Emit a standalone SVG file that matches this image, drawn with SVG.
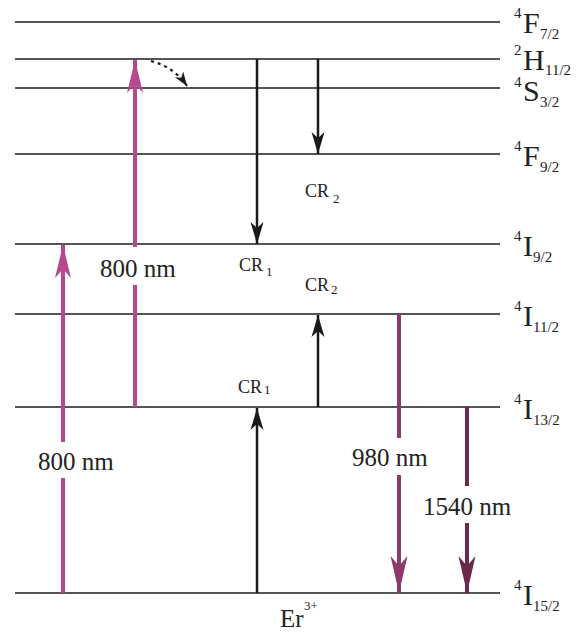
<svg xmlns="http://www.w3.org/2000/svg" width="579" height="633" viewBox="0 0 579 633">
<style>
text{font-family:"Liberation Serif","Times New Roman",serif;fill:#222}
.lv{stroke:#555;stroke-width:2;fill:none}
.big{font-size:30px}
.sup{font-size:15px}
.sub{font-size:15px}
.lab{font-size:25px}
.cr{font-size:18px}
.crs{font-size:13px}
.pink{stroke:#b5488f;stroke-width:4;fill:none}
.p980{stroke:#8c3a6c;stroke-width:4;fill:none}
.p1540{stroke:#6b2848;stroke-width:4;fill:none}
.blk{stroke:#1a1a1a;stroke-width:2.5;fill:none}
</style>
<defs>
<marker id="mPink" viewBox="-34 -9 35 18" refX="0" refY="0" markerWidth="35" markerHeight="18" markerUnits="userSpaceOnUse" orient="auto">
<path d="M0,0 L-33,-8 L-24,0 L-33,8 Z" fill="#b5488f"/>
</marker>
<marker id="m980" viewBox="-38 -9 39 18" refX="0" refY="0" markerWidth="39" markerHeight="18" markerUnits="userSpaceOnUse" orient="auto">
<path d="M0,0 L-37,-8.5 L-27,0 L-37,8.5 Z" fill="#8c3a6c"/>
</marker>
<marker id="m1540" viewBox="-38 -9 39 18" refX="0" refY="0" markerWidth="39" markerHeight="18" markerUnits="userSpaceOnUse" orient="auto">
<path d="M0,0 L-37,-8.5 L-27,0 L-37,8.5 Z" fill="#6b2848"/>
</marker>
<marker id="mBlk" viewBox="-23 -7 24 14" refX="0" refY="0" markerWidth="24" markerHeight="14" markerUnits="userSpaceOnUse" orient="auto">
<path d="M0,0 L-22,-6.5 L-16,0 L-22,6.5 Z" fill="#1a1a1a"/>
</marker>
<marker id="mDot" viewBox="-15 -6 16 12" refX="0" refY="0" markerWidth="16" markerHeight="12" markerUnits="userSpaceOnUse" orient="auto">
<path d="M0,0 L-14,-5 L-10,0 L-14,5 Z" fill="#1a1a1a"/>
</marker>
</defs>

<g id="levels">
<line class="lv" x1="15" y1="22" x2="500" y2="22"/>
<line class="lv" x1="15" y1="59" x2="500" y2="59"/>
<line class="lv" x1="15" y1="88" x2="500" y2="88"/>
<line class="lv" x1="15" y1="154" x2="500" y2="154"/>
<line class="lv" x1="15" y1="244" x2="500" y2="244"/>
<line class="lv" x1="15" y1="314" x2="500" y2="314"/>
<line class="lv" x1="15" y1="407" x2="500" y2="407"/>
<line class="lv" x1="15" y1="593" x2="500" y2="593"/>
</g>

<g id="level-labels">
<g id="F72"><text class="sup" x="514" y="18">4</text><text class="big" x="523" y="33">F</text><text class="sub" x="540" y="39">7/2</text></g>
<g id="H112"><text class="sup" x="514" y="55">2</text><text class="big" x="523" y="70">H</text><text class="sub" x="545" y="75">11/2</text></g>
<g id="S32"><text class="sup" x="514" y="87">4</text><text class="big" x="523" y="101">S</text><text class="sub" x="540" y="107">3/2</text></g>
<g id="F92"><text class="sup" x="514" y="151">4</text><text class="big" x="523" y="166">F</text><text class="sub" x="540" y="172">9/2</text></g>
<g id="I92"><text class="sup" x="514" y="241">4</text><text class="big" x="523" y="256">I</text><text class="sub" x="533" y="262">9/2</text></g>
<g id="I112"><text class="sup" x="514" y="311">4</text><text class="big" x="523" y="326">I</text><text class="sub" x="533" y="332">11/2</text></g>
<g id="I132"><text class="sup" x="514" y="404">4</text><text class="big" x="523" y="419">I</text><text class="sub" x="533" y="425">13/2</text></g>
<g id="I152"><text class="sup" x="514" y="590">4</text><text class="big" x="523" y="605">I</text><text class="sub" x="533" y="611">15/2</text></g>
<g id="Er"><text x="280" y="627" font-size="25">Er</text><text x="304" y="610" font-size="13">3+</text></g>
</g>

<g id="connectors">
<line class="pink" x1="63" y1="593" x2="63" y2="245" marker-end="url(#mPink)"/>
<line class="pink" x1="135" y1="407" x2="135" y2="60" marker-end="url(#mPink)"/>
<path d="M151,61 Q174,67 187,86" fill="none" stroke="#1a1a1a" stroke-width="2.2" stroke-dasharray="3,4" marker-end="url(#mDot)"/>
<line class="blk" x1="257" y1="59" x2="257" y2="244" marker-end="url(#mBlk)"/>
<line class="blk" x1="318" y1="59" x2="318" y2="154" marker-end="url(#mBlk)"/>
<line class="blk" x1="257" y1="593" x2="257" y2="408" marker-end="url(#mBlk)"/>
<line class="blk" x1="318" y1="407" x2="318" y2="315" marker-end="url(#mBlk)"/>
<line class="p980" x1="399" y1="314" x2="399" y2="593" marker-end="url(#m980)"/>
<line class="p1540" x1="467" y1="407" x2="467" y2="593" marker-end="url(#m1540)"/>
</g>

<g id="arrow-labels">
<g id="lab800a"><rect x="34" y="442" width="92" height="36" fill="#fff"/><text class="lab" x="38" y="470">800 nm</text></g>
<g id="lab800b"><rect x="98" y="247" width="92" height="38" fill="#fff"/><text class="lab" x="100" y="277">800 nm</text></g>
<g id="lab980"><rect x="348" y="438" width="92" height="37" fill="#fff"/><text class="lab" x="352" y="466">980 nm</text></g>
<g id="lab1540"><rect x="420" y="486" width="102" height="37" fill="#fff"/><text class="lab" x="423" y="515">1540 nm</text></g>
<g id="cr2a"><text class="cr" x="305" y="197">CR</text><text class="crs" x="333" y="203">2</text></g>
<g id="cr1a"><text class="cr" x="239" y="271">CR</text><text class="crs" x="266" y="276">1</text></g>
<g id="cr2b"><text class="cr" x="305" y="291">CR</text><text class="crs" x="331" y="294">2</text></g>
<g id="cr1b"><text class="cr" x="238" y="393">CR</text><text class="crs" x="264" y="394">1</text></g>
</g>
</svg>
